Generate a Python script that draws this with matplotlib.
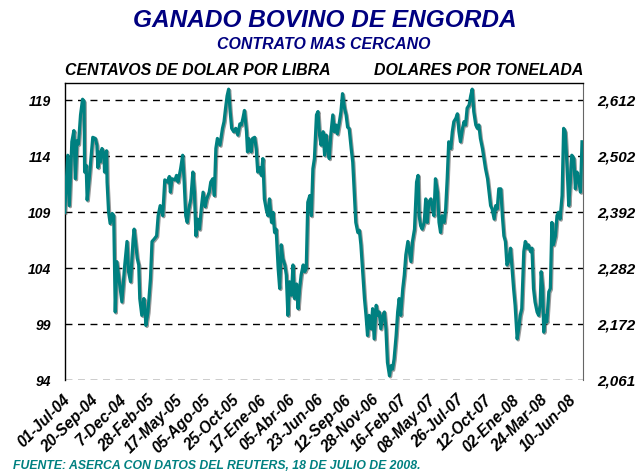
import matplotlib
matplotlib.use("Agg")
import matplotlib.pyplot as plt
import matplotlib.patheffects as pe
import matplotlib.transforms as mtransforms
import numpy as np

# trading-day index (from 01-Jul-04) and price in cents/lb
days = [0, 6, 9, 14, 18, 21, 24, 27, 31, 35, 38, 39, 42, 44, 48, 52, 55, 60, 63, 65,
        68, 70, 73, 77, 78, 82, 83, 86, 89, 93, 96, 99, 102, 107, 112, 117, 122, 125, 129, 134,
        136, 142, 145, 147, 151, 155, 157, 159, 163, 168, 171, 175, 180, 183, 187, 192, 196, 201, 205, 207,
        210, 216, 219, 222, 227, 231, 234, 237, 240, 243, 247, 251, 254, 257, 260, 264, 268, 271, 275, 278,
        283, 286, 290, 293, 296, 299, 304, 309, 312, 315, 318, 321, 324, 327, 331, 335, 339, 343, 346, 349,
        352, 356, 358, 360, 363, 365, 368, 372, 375, 378, 382, 385, 388, 391, 395, 398, 401, 405, 408, 411,
        414, 418, 421, 424, 427, 431, 434, 437, 440, 444, 447, 450, 454, 457, 460, 463, 467, 470, 473, 476,
        480, 483, 486, 489, 493, 496, 499, 502, 506, 509, 512, 515, 518, 521, 525, 528, 531, 534, 538, 541,
        544, 548, 551, 554, 557, 561, 564, 567, 570, 574, 577, 580, 583, 587, 590, 593, 596, 600, 603, 606,
        610, 613, 616, 619, 623, 626, 629, 632, 636, 639, 642, 645, 649, 652, 655, 658, 662, 665, 668, 672,
        675, 678, 681, 685, 689, 692, 694, 697, 700, 704, 707, 710, 713, 717, 720, 723, 726, 730, 733, 736,
        739, 743, 746, 749, 752, 756, 759, 762, 766, 769, 772, 775, 779, 782, 785, 788, 792, 795, 798, 801,
        805, 808, 811, 814, 818, 821, 824, 828, 831, 834, 837, 841, 844, 847, 850, 854, 857, 860, 863, 866,
        869, 873, 876, 879, 882, 886, 889, 892, 895, 899, 902, 905, 908, 912, 915, 918, 921, 925, 928, 931,
        933, 936, 938, 941, 944, 948, 951, 954, 957, 961, 964, 967, 970, 974, 977, 980, 984, 987, 990, 993,
        997, 1000, 1003, 1006, 1010, 1013]
prices = [109.0, 114.1, 109.6, 115.3, 116.3, 112.0, 115.4, 115.1, 117.7, 119.1, 118.9, 112.6, 113.2, 110.1, 112.0, 114.1, 115.7, 115.6, 115.0, 113.0,
          114.4, 113.5, 114.7, 114.2, 112.6, 114.5, 111.7, 109.0, 108.0, 108.9, 108.7, 100.1, 104.6, 102.8, 101.0, 104.0, 106.4, 103.7, 102.8, 106.6,
          107.5, 104.9, 104.3, 101.3, 99.8, 101.3, 100.4, 98.9, 100.1, 103.1, 106.4, 106.6, 106.9, 108.7, 109.6, 108.7, 111.9, 111.7, 112.2, 110.8,
          112.0, 111.9, 112.3, 111.7, 112.9, 114.1, 111.7, 108.7, 108.1, 109.3, 110.2, 112.6, 110.8, 106.9, 108.4, 107.5, 109.6, 110.8, 109.5, 110.2,
          110.8, 111.7, 112.0, 110.5, 114.7, 115.6, 115.0, 116.5, 117.1, 118.3, 119.4, 120.0, 118.0, 116.5, 116.2, 116.5, 115.9, 116.9, 116.8, 117.4,
          118.1, 116.2, 114.4, 115.6, 115.3, 114.4, 115.6, 115.7, 114.7, 112.6, 113.0, 112.3, 113.8, 110.2, 109.2, 108.7, 110.2, 108.1, 109.0, 107.2,
          107.5, 104.0, 102.2, 106.1, 104.9, 104.3, 103.4, 99.8, 102.8, 101.6, 104.3, 101.3, 102.6, 100.4, 102.2, 103.4, 104.3, 103.7, 104.0, 109.9,
          110.5, 108.7, 112.9, 113.8, 117.7, 118.0, 115.9, 115.0, 116.2, 114.1, 115.9, 114.7, 113.8, 115.9, 117.7, 116.2, 116.8, 116.0, 117.1, 118.0,
          119.6, 118.3, 117.7, 116.6, 116.5, 114.7, 113.5, 110.8, 108.1, 107.2, 107.4, 106.1, 104.0, 101.3, 99.8, 98.0, 99.8, 98.6, 100.4, 97.7,
          100.7, 99.8, 100.1, 98.6, 99.8, 100.1, 98.6, 95.6, 94.4, 95.3, 95.0, 95.9, 98.0, 100.1, 101.3, 99.8, 102.2, 103.4, 105.2, 106.4,
          105.5, 104.6, 106.4, 107.5, 111.7, 112.3, 108.7, 107.8, 107.5, 108.1, 110.2, 108.1, 109.9, 110.2, 109.3, 108.7, 112.0, 110.8, 108.1, 107.2,
          108.7, 108.1, 109.3, 112.0, 115.3, 114.7, 116.2, 117.1, 117.4, 117.8, 116.2, 115.3, 116.5, 117.1, 116.8, 118.3, 118.6, 119.4, 120.0, 118.0,
          116.8, 116.5, 116.8, 115.6, 114.7, 113.8, 112.9, 112.0, 110.8, 109.6, 109.3, 108.4, 109.6, 109.3, 111.1, 111.1, 108.7, 106.9, 106.4, 104.3,
          104.6, 105.8, 104.0, 102.2, 100.7, 97.7, 98.6, 99.8, 100.4, 105.5, 106.4, 105.8, 106.1, 105.5, 105.8, 102.2, 101.0, 100.1, 99.8, 100.7,
          103.7, 102.2, 98.3, 99.8, 99.2, 101.9, 102.2, 108.1, 106.1, 106.9, 108.7, 109.0, 108.4, 110.5, 116.5, 116.2, 112.9, 109.6, 111.7, 114.1,
          113.8, 111.1, 112.6, 112.0, 110.8, 115.3]

tick_days = list(range(0, 991, 55))
tick_labels = ["01-Jul-04", "20-Sep-04", "7-Dec-04", "28-Feb-05", "17-May-05", "05-Ago-05",
               "25-Oct-05", "17-Ene-06", "05-Abr-06", "23-Jun-06", "12-Sep-06", "28-Nov-06",
               "16-Feb-07", "08-May-07", "26-Jul-07", "12-Oct-07", "02-Ene-08", "24-Mar-08", "10-Jun-08"]
left_ticks = [94, 99, 104, 109, 114, 119]
right_labels = ["2,061", "2,172", "2,282", "2,392", "2,502", "2,612"]

plt.rcParams['font.family'] = ['Liberation Sans', 'DejaVu Sans']
fig = plt.figure(figsize=(6.36, 4.74), dpi=100)
ax = fig.add_axes([0.1017, 0.1977, 0.815, 0.6272])

ax.plot(days, prices, color="#008080", lw=2.3, solid_joinstyle="round",
        path_effects=[pe.SimpleLineShadow(offset=(0.8, -0.8), shadow_color="#555555", alpha=0.6),
                      pe.Normal()], zorder=3)

ax.set_xlim(0, 1015)
ax.set_ylim(94, 120.55)
ax.set_yticks(left_ticks)
ax.set_yticklabels([str(t) for t in left_ticks], fontsize=10, fontweight="bold", style="italic")
for t in left_ticks:
    ax.axhline(t, color="black", lw=1.0, ls=(0, (5, 4)), zorder=1)
ax.set_xticks(tick_days)
ax.set_xticklabels(tick_labels, rotation=45, ha="right", va="top", rotation_mode="anchor",
                   fontsize=11.2, fontweight="bold", style="italic")
ax.tick_params(axis="x", length=0, pad=0)
ax.tick_params(axis="y", length=0, pad=10)
shift = mtransforms.ScaledTranslation(-0.02, -0.12, fig.dpi_scale_trans)
for lab in ax.get_xticklabels():
    lab.set_transform(lab.get_transform() + shift)
ax.spines["bottom"].set_visible(False)
ax.spines["right"].set_color("#666666")
for s in ["left", "top"]:
    ax.spines[s].set_color("black")
    ax.spines[s].set_linewidth(1.0)

ax2 = ax.twinx()
ax2.set_ylim(ax.get_ylim())
ax2.set_yticks(left_ticks)
ax2.set_yticklabels(right_labels, fontsize=11, fontweight="bold", style="italic")
ax2.tick_params(axis="y", length=0, pad=10)
for s in ax2.spines.values():
    s.set_visible(False)

fig.text(0.51, 0.956, "GANADO BOVINO DE ENGORDA", ha="center", va="center",
         fontsize=17.6, fontweight="bold", style="italic", color="#000080")
fig.text(0.509, 0.906, "CONTRATO MAS CERCANO", ha="center", va="center",
         fontsize=11.4, fontweight="bold", style="italic", color="#000080")
fig.text(0.102, 0.852, "CENTAVOS DE DOLAR POR LIBRA", ha="left", va="center",
         fontsize=11.4, fontweight="bold", style="italic", color="black")
fig.text(0.917, 0.852, "DOLARES POR TONELADA", ha="right", va="center",
         fontsize=11.4, fontweight="bold", style="italic", color="black")
fig.text(0.02, 0.016, "FUENTE: ASERCA CON DATOS DEL REUTERS, 18 DE JULIO DE 2008.", ha="left", va="center",
         fontsize=8.8, fontweight="bold", style="italic", color="#008080")

fig.savefig("out.png", dpi=100)
